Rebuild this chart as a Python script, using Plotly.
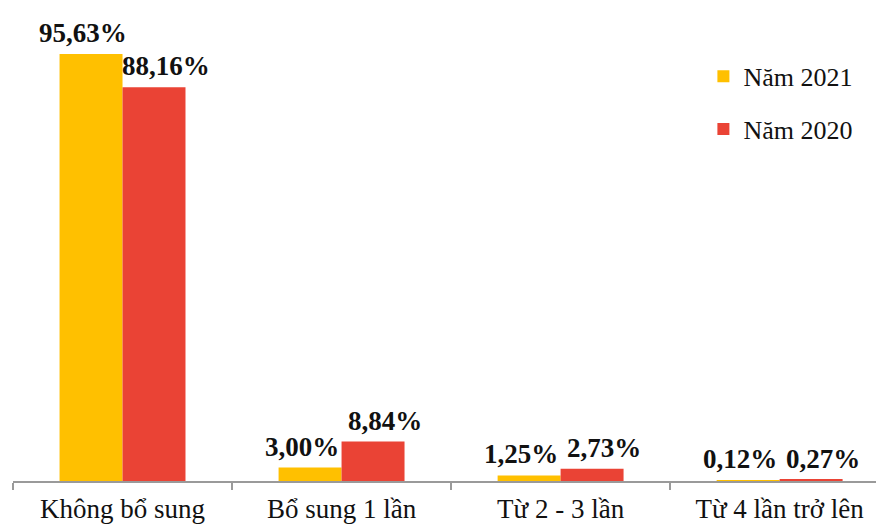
import plotly.graph_objects as go

categories = ["Không bổ sung", "Bổ sung 1 lần", "Từ 2 - 3 lần", "Từ 4 lần trở lên"]
series_names = ["Năm 2021", "Năm 2020"]
values_2021 = [95.63, 3.00, 1.25, 0.12]
values_2020 = [88.16, 8.84, 2.73, 0.27]

colors = ["#FFC000", "#EA4335"]
label_shift = [-8, 12]
serif = "Liberation Serif, Times New Roman, serif"

fig = go.Figure()
for i, (name, vals) in enumerate(zip(series_names, [values_2021, values_2020])):
    fig.add_trace(go.Bar(
        x=categories, y=vals, name=name,
        marker=dict(color=colors[i], line=dict(width=0)),
        legendgroup=name,
    ))

# value labels sit just above each bar, nudged apart so neighbours don't collide
bar_half = 31.5
for i, vals in enumerate([values_2021, values_2020]):
    sign = -1 if i == 0 else 1
    for cat, v in zip(categories, vals):
        fig.add_annotation(
            x=cat, y=v, xref="x", yref="y",
            text=f"{v:.2f}%".replace(".", ","),
            showarrow=False, yanchor="bottom", xanchor="center",
            xshift=sign * bar_half + label_shift[i], yshift=4,
            font=dict(family=serif, size=27, color="#111111", weight="bold"),
        )

fig.update_layout(
    width=876, height=525,
    margin=dict(l=13, r=0, t=0, b=44, autoexpand=False),
    paper_bgcolor="white", plot_bgcolor="white",
    barmode="group", bargap=0.425, bargroupgap=0,
    showlegend=True,
    legend=dict(
        x=0.80, y=0.89, xanchor="left", yanchor="top",
        font=dict(family=serif, size=26, color="#111111"),
        tracegroupgap=16, bgcolor="rgba(0,0,0,0)",
    ),
    xaxis=dict(
        type="category", range=[-0.5, 3.44], automargin=False,
        tickson="boundaries", ticks="outside", ticklen=7, tickwidth=2,
        tickcolor="#9a9a9a", showline=True, linecolor="#9a9a9a", linewidth=2,
        tickfont=dict(family=serif, size=27, color="#111111"),
        ticklabelstandoff=3,
        showgrid=False, zeroline=False,
    ),
    yaxis=dict(range=[0, 107.7], visible=False, showgrid=False, zeroline=False,
               automargin=False),
)

fig.write_html("out.html")
